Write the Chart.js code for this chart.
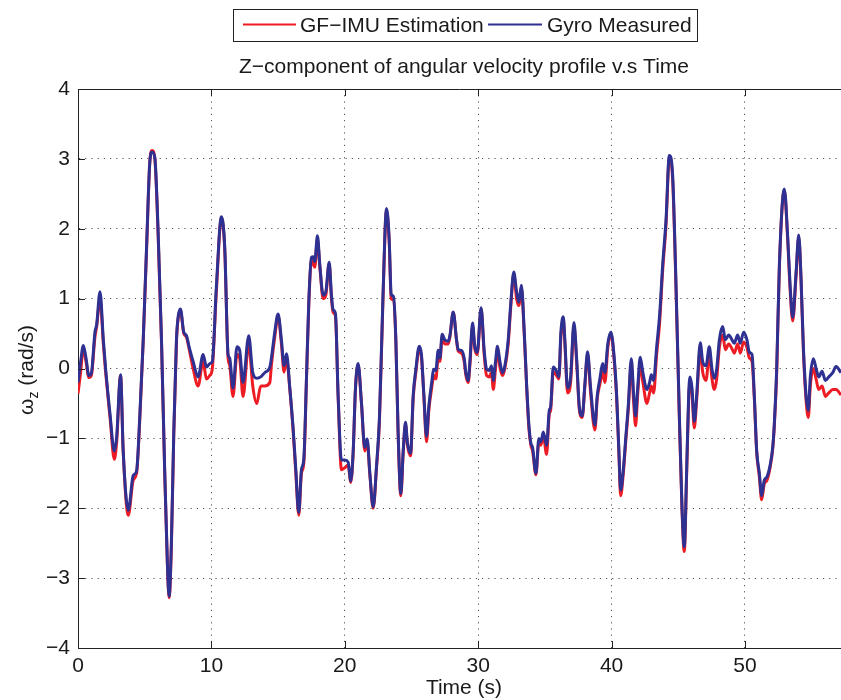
<!DOCTYPE html>
<html>
<head>
<meta charset="utf-8">
<script src="https://cdn.jsdelivr.net/npm/chart.js@4.4.1/dist/chart.umd.min.js"></script>
<style>
html,body{margin:0;padding:0;background:#fff;}
#wrap{width:841px;height:700px;}
</style>
</head>
<body>
<div id="wrap"><canvas id="angChart" width="841" height="700"></canvas></div>
<script>
// time stamps (s)
const time = [
0.0,0.2,0.4,0.6,0.82,1.0,1.27,1.4,1.65,1.9,2.07,2.4,2.72,2.9,3.19,3.39,3.77,4.14,4.39,4.64,
4.89,5.14,5.39,5.56,5.76,6.0,6.26,6.5,6.7,6.83,7.0,7.18,7.38,7.5,7.68,7.93,8.13,8.33,8.63,9.0,
9.38,9.63,9.88,10.07,10.37,10.75,11.0,11.25,11.37,11.62,11.92,12.12,12.37,12.8,13.1,13.4,13.7,14.0,14.38,14.5,
14.75,15.0,15.25,15.45,15.63,15.88,16.13,16.33,16.55,16.75,16.93,17.13,17.3,17.5,17.63,17.75,17.95,18.13,18.38,18.58,
18.83,19.0,19.13,19.3,19.5,19.75,20.0,20.25,20.45,20.63,20.8,21.0,21.25,21.5,21.68,21.88,22.13,22.38,22.6,22.85,
23.13,23.33,23.48,23.65,23.83,24.0,24.2,24.38,24.55,24.7,24.93,25.13,25.33,25.58,25.75,25.93,26.13,26.3,26.5,26.68,
26.83,27.0,27.13,27.3,27.5,27.75,27.88,28.13,28.38,28.5,28.75,28.95,29.08,29.25,29.38,29.58,29.75,29.93,30.22,30.45,
30.63,30.83,31.0,31.13,31.3,31.45,31.63,31.83,32.0,32.25,32.45,32.67,32.88,33.05,33.24,33.45,33.63,33.8,33.95,34.08,
34.33,34.55,34.7,34.88,35.13,35.33,35.43,35.63,35.88,36.05,36.2,36.38,36.5,36.7,36.93,37.18,37.38,37.58,37.8,38.0,
38.2,38.43,38.75,38.93,39.13,39.33,39.5,39.72,39.95,40.18,40.38,40.55,40.68,40.88,41.08,41.25,41.48,41.66,41.8,41.95,
42.15,42.35,42.65,42.85,42.98,43.15,43.38,43.6,43.83,44.08,44.33,44.58,44.83,45.08,45.28,45.45,45.63,45.78,45.88,46.03,
46.2,46.38,46.65,46.83,47.08,47.33,47.53,47.7,47.88,48.08,48.33,48.53,48.78,49.03,49.2,49.45,49.65,49.9,50.15,50.33,
50.53,50.7,50.88,51.08,51.25,51.45,51.65,51.88,52.08,52.2,52.38,52.58,52.95,53.2,53.38,53.58,53.83,54.03,54.2,54.38,
54.58,54.75,54.9,55.13,55.33,55.53,55.78,56.03,56.28,56.58,56.83,57.2
];

// Gyro Measured (rad/s)
const gyroMeasured = [
-0.2,0.1,0.33,0.15,-0.1,-0.07,0.52,0.63,1.1,0.41,0.0,-0.65,-1.18,-0.97,-0.09,-1.18,-2.03,-1.53,-1.47,-0.65,
0.41,1.74,2.97,3.1,3.02,2.0,0.41,-1.45,-2.78,-3.26,-2.5,-0.91,0.41,0.73,0.85,0.52,0.47,0.31,0.1,-0.12,
0.2,0.02,0.07,0.1,1.16,2.17,1.74,0.2,0.15,-0.28,0.31,0.26,-0.2,0.47,-0.06,-0.14,-0.12,-0.06,0.02,0.15,
0.52,0.78,0.41,0.04,0.21,-0.28,-0.86,-1.45,-2.06,-1.45,-1.29,-0.12,0.95,1.59,1.6,1.53,1.9,1.48,1.05,1.1,
1.52,1.05,0.84,0.79,-0.38,-1.31,-1.31,-1.34,-1.61,-1.18,-0.28,0.07,-0.49,-1.13,-1.01,-1.5,-1.98,-1.39,-0.7,0.95,
2.29,1.85,1.06,1.03,0.41,-0.91,-1.79,-1.18,-0.77,-1.07,-1.21,-0.38,-0.01,0.32,0.2,-0.38,-0.97,-0.54,-0.22,-0.01,
-0.03,0.26,0.15,0.49,0.41,0.39,0.47,0.81,0.41,0.27,0.26,0.15,-0.06,-0.17,0.1,0.65,0.31,0.23,0.87,0.26,
-0.01,-0.03,0.04,-0.17,0.1,0.32,0.1,-0.06,0.04,0.41,0.95,1.38,1.1,0.95,1.19,0.55,-0.22,-0.8,-1.07,-1.13,
-1.5,-1.0,-1.05,-0.91,-1.1,-0.6,-0.55,0.02,-0.04,-0.12,0.52,0.74,0.41,-0.28,-0.12,0.66,0.15,-0.54,-0.68,-0.22,
0.24,-0.28,-0.81,-0.38,-0.14,0.07,-0.06,0.36,0.52,0.2,-0.38,-1.18,-1.74,-1.45,-0.95,-0.54,0.14,-0.38,-0.68,-0.3,
0.16,-0.06,-0.3,-0.2,-0.09,-0.17,0.31,0.76,1.48,2.12,3.05,2.76,1.21,-0.65,-1.98,-2.55,-1.45,-0.38,-0.12,-0.28,
-0.76,-0.38,0.37,0.1,0.04,0.31,-0.01,-0.14,-0.01,0.41,0.6,0.41,0.48,0.41,0.36,0.48,0.36,0.52,0.41,0.23,
0.2,-0.38,-1.18,-1.5,-1.82,-1.6,-1.55,-1.39,-1.13,-0.8,0.0,1.48,2.57,1.9,1.21,0.73,1.37,1.91,1.32,0.31,
-0.38,-0.6,-0.12,0.14,0.0,-0.12,-0.04,-0.17,-0.12,-0.06,0.03,-0.06
];

// GF-IMU Estimation (rad/s)
const gfImuEstimation = [
-0.36,-0.05,0.3,0.1,-0.13,-0.1,0.45,0.6,1.0,0.35,-0.05,-0.7,-1.3,-1.05,-0.1,-1.2,-2.1,-1.6,-1.5,-0.7,
0.4,1.7,2.97,3.12,3.0,1.95,0.38,-1.5,-2.8,-3.28,-2.55,-0.95,0.38,0.7,0.83,0.5,0.45,0.28,0.0,-0.25,
0.1,-0.15,-0.1,0.0,1.1,2.15,1.7,0.15,0.05,-0.4,0.2,0.15,-0.4,0.35,-0.25,-0.5,-0.25,-0.25,-0.2,0.05,
0.45,0.75,0.35,-0.05,0.15,-0.3,-0.9,-1.5,-2.1,-1.5,-1.35,-0.15,0.9,1.55,1.5,1.45,1.85,1.45,1.0,1.05,
1.5,1.0,0.8,0.75,-0.4,-1.45,-1.42,-1.38,-1.63,-1.2,-0.3,0.05,-0.5,-1.18,-1.05,-1.52,-2.0,-1.42,-0.75,0.9,
2.27,1.8,1.0,0.98,0.38,-0.95,-1.82,-1.2,-0.8,-1.1,-1.25,-0.42,-0.05,0.28,0.15,-0.4,-1.05,-0.6,-0.3,-0.1,
-0.15,0.15,0.1,0.45,0.35,0.35,0.45,0.8,0.4,0.25,0.22,0.1,-0.1,-0.2,0.05,0.6,0.28,0.2,0.85,0.2,
-0.1,-0.12,-0.05,-0.3,0.0,0.28,0.02,-0.1,0.0,0.35,0.9,1.35,1.0,0.9,1.15,0.5,-0.25,-0.85,-1.1,-1.18,
-1.52,-1.05,-1.1,-0.95,-1.23,-0.65,-0.6,-0.05,-0.1,-0.15,0.45,0.7,0.35,-0.35,-0.2,0.6,0.1,-0.58,-0.7,-0.25,
0.2,-0.35,-0.88,-0.42,-0.22,-0.05,-0.2,0.3,0.5,0.15,-0.42,-1.22,-1.82,-1.5,-1.0,-0.6,0.05,-0.5,-0.82,-0.4,
0.05,-0.2,-0.5,-0.35,-0.25,-0.35,0.2,0.65,1.4,2.05,3.02,2.7,1.15,-0.7,-2.02,-2.62,-1.5,-0.45,-0.2,-0.35,
-0.85,-0.45,0.28,-0.05,-0.17,0.2,-0.15,-0.3,-0.15,0.3,0.48,0.27,0.35,0.28,0.22,0.35,0.22,0.38,0.3,0.15,
0.1,-0.42,-1.2,-1.55,-1.88,-1.65,-1.6,-1.42,-1.15,-0.82,-0.05,1.45,2.55,1.85,1.15,0.68,1.32,1.88,1.28,0.25,
-0.45,-0.7,-0.25,0.0,-0.15,-0.3,-0.25,-0.4,-0.35,-0.3,-0.3,-0.38
];

const xTickValues = [0, 10, 20, 30, 40, 50];
const yTickValues = [-4, -3, -2, -1, 0, 1, 2, 3, 4];

const redColor = "rgb(237,28,36)";
const blueColor = "rgb(46,49,146)";
const fontFam = "'Liberation Sans', Arial, sans-serif";

function pts(ys){
  return time.map((t,i)=>({x:t, y:ys[i]}));
}

/* frame, inward ticks, legend, title and axis labels */
const decorPlugin = {
  id: "decor",
  afterDraw(chart){
    const c = chart.ctx;
    const a = chart.chartArea;
    const xs = chart.scales.x, ys = chart.scales.y;
    c.save();
    c.strokeStyle = "#222";
    c.lineWidth = 1;
    // top frame line
    c.beginPath();
    c.moveTo(a.left, a.top + 0.5);
    c.lineTo(a.right, a.top + 0.5);
    c.stroke();
    // inward ticks
    c.beginPath();
    xTickValues.forEach(v=>{
      const px = Math.round(xs.getPixelForValue(v)) + 0.5;
      c.moveTo(px, a.bottom); c.lineTo(px, a.bottom - 7);
      c.moveTo(px, a.top); c.lineTo(px, a.top + 7);
    });
    yTickValues.forEach(v=>{
      const py = Math.round(ys.getPixelForValue(v)) + 0.5;
      c.moveTo(a.left, py); c.lineTo(a.left + 7, py);
    });
    c.stroke();

    // legend box
    const bx = 233, by = 9, bw = 464, bh = 32;
    c.fillStyle = "#fff";
    c.fillRect(bx, by, bw, bh);
    c.strokeStyle = "#222";
    c.strokeRect(bx + 0.5, by + 0.5, bw, bh);
    c.lineWidth = 2;
    c.strokeStyle = redColor;
    c.beginPath(); c.moveTo(243, 24.5); c.lineTo(296, 24.5); c.stroke();
    c.strokeStyle = blueColor;
    c.beginPath(); c.moveTo(488, 24.5); c.lineTo(542, 24.5); c.stroke();
    c.fillStyle = "#1a1a1a";
    c.font = "21px " + fontFam;
    c.textBaseline = "alphabetic";
    c.textAlign = "left";
    c.fillText("GF\u2212IMU Estimation", 300, 32);
    c.fillText("Gyro Measured", 547, 32);

    // title
    c.textAlign = "center";
    c.fillText("Z\u2212component of angular velocity profile v.s Time", 464, 73);

    // x axis label
    c.fillText("Time (s)", 464, 694);

    // y axis label with subscript
    c.translate(33, 370);
    c.rotate(-Math.PI/2);
    c.textAlign = "left";
    c.font = "21px " + fontFam;
    const w1 = c.measureText("\u03c9").width;
    c.font = "14px " + fontFam;
    const w2 = c.measureText("z").width;
    c.font = "21px " + fontFam;
    const w3 = c.measureText(" (rad/s)").width;
    let x0 = -(w1 + w2 + w3) / 2;
    c.fillText("\u03c9", x0, 0);
    c.font = "14px " + fontFam;
    c.fillText("z", x0 + w1, 5);
    c.font = "21px " + fontFam;
    c.fillText(" (rad/s)", x0 + w1 + w2, 0);
    c.restore();
  }
};

new Chart(document.getElementById("angChart"), {
  type: "line",
  data: {
    datasets: [
      {
        label: "GF\u2212IMU Estimation",
        data: pts(gfImuEstimation),
        borderColor: redColor,
        borderWidth: 3,
        pointRadius: 0,
        cubicInterpolationMode: "monotone",
        fill: false,
        order: 2
      },
      {
        label: "Gyro Measured",
        data: pts(gyroMeasured),
        borderColor: blueColor,
        borderWidth: 3,
        pointRadius: 0,
        cubicInterpolationMode: "monotone",
        fill: false,
        order: 1
      }
    ]
  },
  options: {
    responsive: false,
    animation: false,
    devicePixelRatio: 1,
    layout: { padding: { top: 89, right: 0, left: 0, bottom: 0 } },
    plugins: {
      legend: { display: false },
      title: { display: false },
      tooltip: { enabled: false }
    },
    scales: {
      x: {
        type: "linear",
        min: 0,
        max: 57.2,
        afterFit(s){ s.height = 52; },
        afterBuildTicks(s){ s.ticks = xTickValues.map(v=>({value:v})); },
        ticks: {
          stepSize: 10,
          includeBounds: false,
          padding: 6,
          color: "#1a1a1a",
          font: { family: fontFam, size: 21 }
        },
        grid: {
          color: "rgba(40,40,40,0.8)",
          lineWidth: 1,
          drawTicks: false
        },
        border: { display: true, color: "#222", width: 1, dash: [1.2, 5] }
      },
      y: {
        min: -4,
        max: 4,
        afterFit(s){ s.width = 78; },
        afterBuildTicks(s){ s.ticks = yTickValues.map(v=>({value:v})); },
        ticks: {
          stepSize: 1,
          padding: 8,
          color: "#1a1a1a",
          font: { family: fontFam, size: 21 },
          callback: v => String(v).replace("-", "\u2212")
        },
        grid: {
          color: "rgba(40,40,40,0.8)",
          lineWidth: 1,
          drawTicks: false
        },
        border: { display: true, color: "#222", width: 1, dash: [1.2, 5] }
      }
    }
  },
  plugins: [decorPlugin]
});
</script>
</body>
</html>
